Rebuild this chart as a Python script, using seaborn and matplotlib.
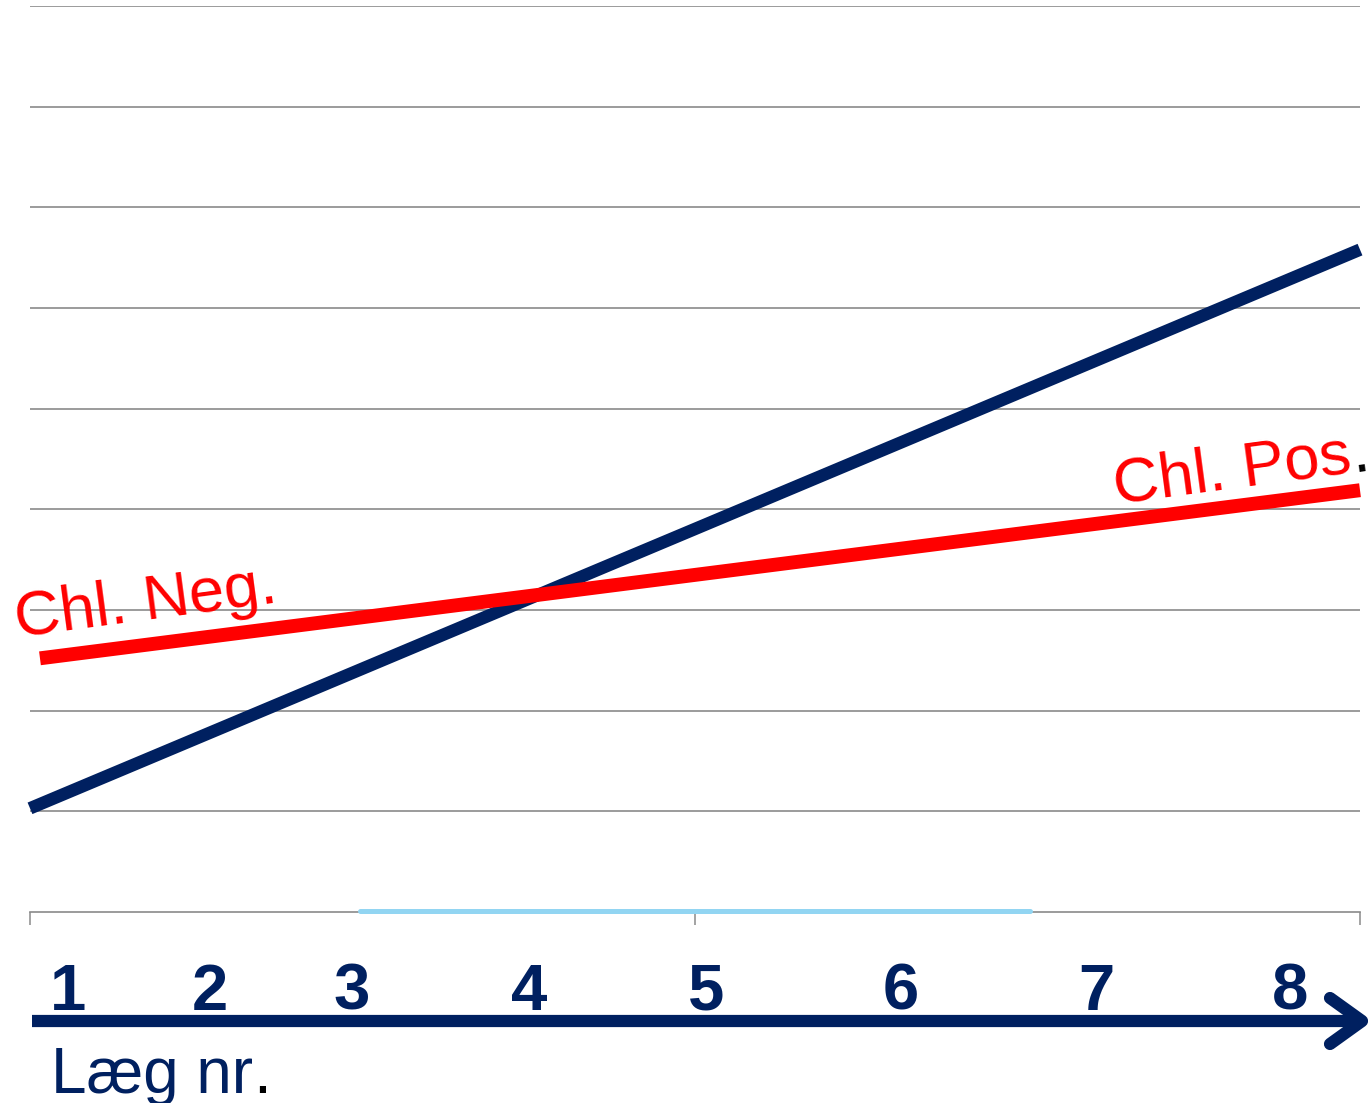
import numpy as np
import pandas as pd
import matplotlib
matplotlib.use("Agg")
import matplotlib.pyplot as plt
import seaborn as sns
from matplotlib.lines import Line2D
import matplotlib.transforms as mtransforms

# ---- data ----
series_names = ["Chl. Pos.", "Chl. Neg."]
pos_x = [0.0, 2.0]
pos_y = [1.03, 6.58]
neg_x = [0.015, 2.0]
neg_y = [2.52, 4.19]
leg_labels = ["1", "2", "3", "4", "5", "6", "7", "8"]
leg_label_x = [0.057, 0.271, 0.484, 0.750, 1.017, 1.310, 1.603, 1.895]
highlight_x = [0.496, 1.504]
axis_title = "Læg nr"

NAVY = "#002060"
RED = "#FF0000"
GRID = "#8a8a8a"
LIGHTBLUE = "#92D5F2"

sns.set_style("white")
plt.rcParams["font.family"] = ["Liberation Sans", "DejaVu Sans"]

W, H = 1368, 1103
fig = plt.figure(figsize=(W / 100, H / 100), dpi=100)
ax = fig.add_axes([30 / W, (H - 912) / H, 1330 / W, 906 / H])

df = pd.DataFrame({
    "x": pos_x + neg_x,
    "y": pos_y + neg_y,
    "series": [series_names[0]] * len(pos_x) + [series_names[1]] * len(neg_x),
})
sns.lineplot(data=df, x="x", y="y", hue="series",
             palette={series_names[0]: NAVY, series_names[1]: RED},
             linewidth=9, legend=False, ax=ax, zorder=3)
for ln in ax.get_lines():
    ln.set_clip_on(False)
    ln.set_solid_capstyle("butt")
    if tuple(np.round(matplotlib.colors.to_rgb(ln.get_color()), 2)) == (1.0, 0.0, 0.0):
        ln.set_linewidth(10)

ax.set_xlim(0, 2)
ax.set_ylim(0, 9)
ax.set_yticks(np.arange(1, 10))
ax.yaxis.grid(True, color=GRID, linewidth=1.2)
ax.set_yticklabels([])
ax.tick_params(axis="y", length=0, left=False)
ax.set_xticks([0, 1, 2])
ax.set_xticklabels([])
ax.tick_params(axis="x", bottom=True, length=9.5, width=1.1, color=GRID, direction="out")
ax.set_xlabel("")
ax.set_ylabel("")
for s in ["left", "right", "top"]:
    ax.spines[s].set_visible(False)
ax.spines["bottom"].set_color(GRID)
ax.spines["bottom"].set_linewidth(1.2)
ax.set_axisbelow(True)

# light-blue highlight on the axis
ax.plot(highlight_x, [0.01, 0.01], color=LIGHTBLUE, linewidth=3.6,
        solid_capstyle="round", clip_on=False, zorder=4)

# series labels
angle = 7.6
fig.canvas.draw()
renderer = fig.canvas.get_renderer()

def label_with_dot(x, y, main, dot, main_color, dot_color):
    t = ax.text(x, y, main, color=main_color, fontsize=45.5, rotation=angle,
                rotation_mode="anchor", ha="left", va="baseline", zorder=5)
    if dot:
        tmp = ax.text(0, 0, main, fontsize=45.5)
        w = tmp.get_window_extent(renderer=renderer).width
        tmp.remove()
        px, py = ax.transData.transform((x, y))
        a = np.deg2rad(angle)
        nx, ny = ax.transData.inverted().transform((px + w * np.cos(a), py + w * np.sin(a)))
        ax.text(nx, ny, dot, color=dot_color, fontsize=45.5, rotation=angle,
                rotation_mode="anchor", ha="left", va="baseline", zorder=5,
                clip_on=False)
    return t

label_with_dot(-0.019, 2.73, "Chl. Neg.", "", RED, RED)
label_with_dot(1.633, 4.06, "Chl. Pos", ".", RED, "black")

# layer numbers below axis
trans = mtransforms.blended_transform_factory(ax.transData, fig.transFigure)
for lx, lab in zip(leg_label_x, leg_labels):
    ax.text(lx, (H - 1010) / H, lab, transform=trans, ha="center", va="baseline",
            fontsize=47, fontweight="bold", color=NAVY, clip_on=False)

# arrow
lw_arrow = 8.8
fig.add_artist(Line2D([32 / W, 1360 / W], [(H - 1021) / H, (H - 1021) / H],
                      color=NAVY, linewidth=lw_arrow, solid_capstyle="butt"))
fig.add_artist(Line2D([1330 / W, 1362 / W, 1330 / W],
                      [(H - 998) / H, (H - 1021) / H, (H - 1044) / H],
                      color=NAVY, linewidth=lw_arrow, solid_capstyle="round",
                      solid_joinstyle="round"))

# axis title
tt = fig.text(51 / W, (H - 1093) / H, axis_title, fontsize=46, color=NAVY,
              ha="left", va="baseline")
fig.canvas.draw()
bb = tt.get_window_extent(renderer=fig.canvas.get_renderer())
fig.text(bb.x1 / W, (H - 1093) / H, ".", fontsize=46, color="black",
         ha="left", va="baseline")

fig.savefig("out.png", dpi=100)
